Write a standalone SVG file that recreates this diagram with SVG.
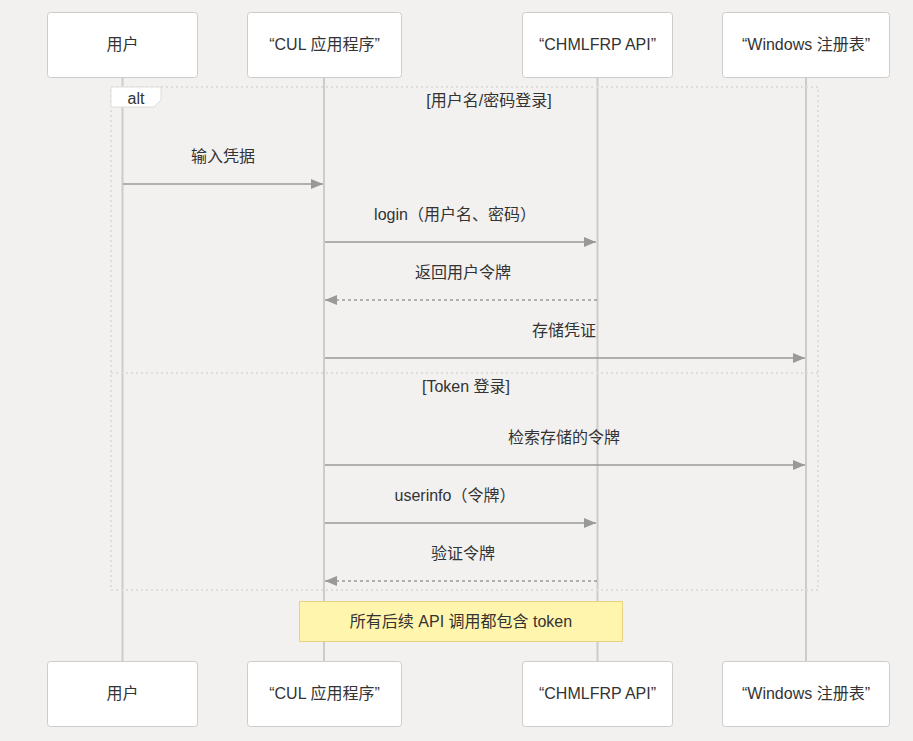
<svg xmlns="http://www.w3.org/2000/svg" width="913" height="741" viewBox="0 0 913 741">
<defs>
<style>
text{font-family:"Liberation Sans","Noto Sans CJK SC",sans-serif;font-size:16px;fill:#333;text-anchor:middle}
.actor{fill:#fff;stroke:#ccc;stroke-width:1}
.life{stroke:#ccc;stroke-width:2}
.msg{stroke:#999;stroke-width:1.5;fill:none}
.dash{stroke-dasharray:3,3}
.frame{fill:none;stroke:#ddd;stroke-width:2;stroke-dasharray:2,3}
</style>
<marker id="arr" viewBox="0 0 12 10" refX="12" refY="5" markerWidth="12" markerHeight="10" markerUnits="userSpaceOnUse" orient="auto">
<path d="M0,0 L12,5 L0,10 z" fill="#999"/>
</marker>
</defs>
<rect width="913" height="741" fill="#f2f1ef"/>
<g id="lifelines">
<line class="life" x1="122.5" y1="77" x2="122.5" y2="661"/>
<line class="life" x1="324" y1="77" x2="324" y2="661"/>
<line class="life" x1="597.5" y1="77" x2="597.5" y2="661"/>
<line class="life" x1="806" y1="77" x2="806" y2="661"/>
</g>
<g id="alt">
<rect class="frame" x="111" y="87" width="707" height="503"/>
<line class="frame" x1="111" y1="373" x2="818" y2="373"/>
<path d="M111,87 H161 V100 L154,107 H111 Z" fill="#fff" stroke="#ddd"/>
<text x="136" y="104">alt</text>
<text x="489" y="106">[用户名/密码登录]</text>
<text x="466" y="392">[Token 登录]</text>
</g>
<g id="connectors">
<line class="msg" x1="123" y1="184" x2="323" y2="184" marker-end="url(#arr)"/>
<text x="223" y="162">输入凭据</text>
<line class="msg" x1="325" y1="242" x2="596" y2="242" marker-end="url(#arr)"/>
<text x="455" y="220">login（用户名、密码）</text>
<line class="msg dash" x1="597" y1="300" x2="325" y2="300" marker-end="url(#arr)"/>
<text x="463" y="278">返回用户令牌</text>
<line class="msg" x1="325" y1="358" x2="805" y2="358" marker-end="url(#arr)"/>
<text x="564" y="336">存储凭证</text>
<line class="msg" x1="325" y1="465" x2="805" y2="465" marker-end="url(#arr)"/>
<text x="564" y="443">检索存储的令牌</text>
<line class="msg" x1="325" y1="523" x2="596" y2="523" marker-end="url(#arr)"/>
<text x="455" y="501">userinfo（令牌）</text>
<line class="msg dash" x1="597" y1="581" x2="325" y2="581" marker-end="url(#arr)"/>
<text x="463" y="559">验证令牌</text>
</g>
<g id="note">
<rect x="299.5" y="601.5" width="323" height="40" fill="#fff5ad" stroke="#e6d280"/>
<text x="461" y="627">所有后续 API 调用都包含 token</text>
</g>
<g id="actor-user-top"><rect class="actor" x="47.5" y="12.5" width="150" height="65" rx="3"/><text x="122.5" y="50">用户</text></g>
<g id="actor-cul-top"><rect class="actor" x="247.5" y="12.5" width="154" height="65" rx="3"/><text x="324.5" y="50">“CUL 应用程序”</text></g>
<g id="actor-api-top"><rect class="actor" x="522.5" y="12.5" width="150" height="65" rx="3"/><text x="597.5" y="50">“CHMLFRP API”</text></g>
<g id="actor-reg-top"><rect class="actor" x="722.5" y="12.5" width="167" height="65" rx="3"/><text x="806" y="50">“Windows 注册表”</text></g>
<g id="actor-user-bottom"><rect class="actor" x="47.5" y="661.5" width="150" height="65" rx="3"/><text x="122.5" y="699">用户</text></g>
<g id="actor-cul-bottom"><rect class="actor" x="247.5" y="661.5" width="154" height="65" rx="3"/><text x="324.5" y="699">“CUL 应用程序”</text></g>
<g id="actor-api-bottom"><rect class="actor" x="522.5" y="661.5" width="150" height="65" rx="3"/><text x="597.5" y="699">“CHMLFRP API”</text></g>
<g id="actor-reg-bottom"><rect class="actor" x="722.5" y="661.5" width="167" height="65" rx="3"/><text x="806" y="699">“Windows 注册表”</text></g>
</svg>
